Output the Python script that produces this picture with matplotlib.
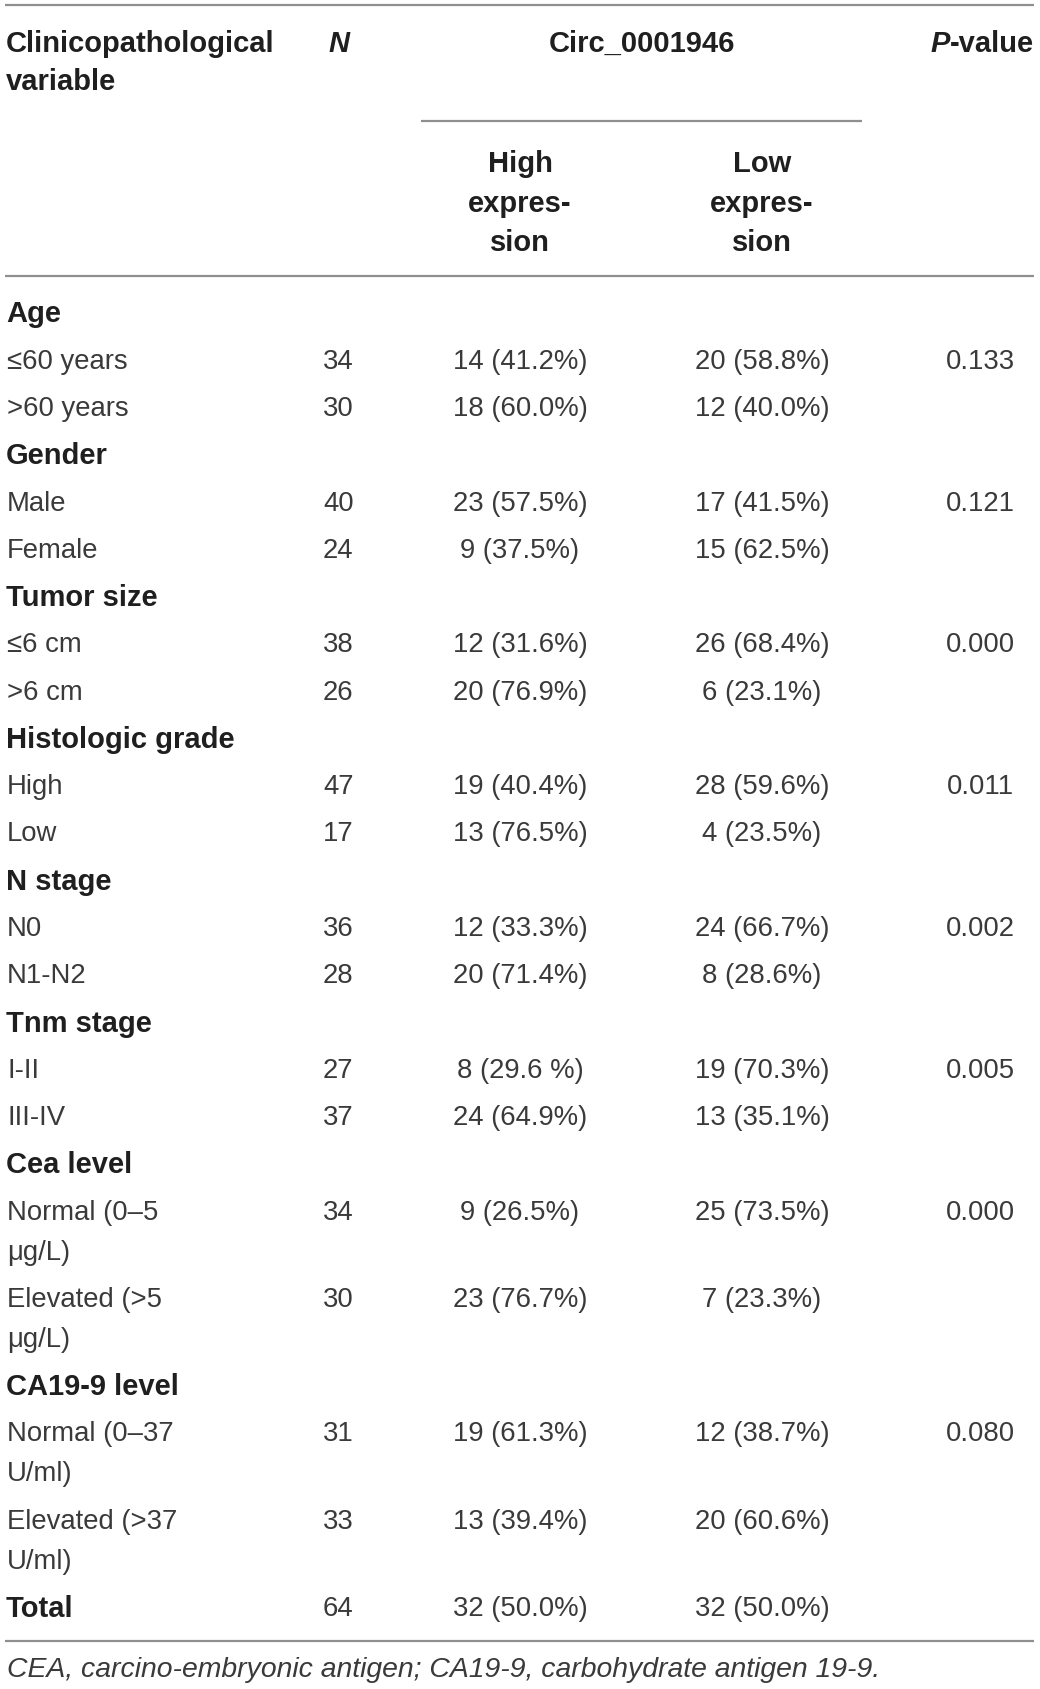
import matplotlib
matplotlib.use("Agg")
import matplotlib.pyplot as plt

# ---------------- data ----------------
groups = ["Age", "Gender", "Tumor size", "Histologic grade", "N stage",
          "Tnm stage", "Cea level", "CA19-9 level"]
sub_labels = [["≤60 years", ">60 years"], ["Male", "Female"], ["≤6 cm", ">6 cm"],
              ["High", "Low"], ["N0", "N1-N2"], ["I-II", "III-IV"],
              ["Normal (0–5\nμg/L)", "Elevated (>5\nμg/L)"],
              ["Normal (0–37\nU/ml)", "Elevated (>37\nU/ml)"]]
n_values = [34, 30, 40, 24, 38, 26, 47, 17, 36, 28, 27, 37, 34, 30, 31, 33]
high_counts = [14, 18, 23, 9, 12, 20, 19, 13, 12, 20, 8, 24, 9, 23, 19, 13]
high_pcts = ["41.2", "60.0", "57.5", "37.5", "31.6", "76.9", "40.4", "76.5",
             "33.3", "71.4", "29.6 ", "64.9", "26.5", "76.7", "61.3", "39.4"]
low_counts = [20, 12, 17, 15, 26, 6, 28, 4, 24, 8, 19, 13, 25, 7, 12, 20]
low_pcts = ["58.8", "40.0", "41.5", "62.5", "68.4", "23.1", "59.6", "23.5",
            "66.7", "28.6", "70.3", "35.1", "73.5", "23.3", "38.7", "60.6"]
p_values = ["0.133", "0.121", "0.000", "0.011", "0.002", "0.005", "0.000", "0.080"]
total_label = "Total"
total_n = 64
total_high = "32 (50.0%)"
total_low = "32 (50.0%)"
footnote = "CEA, carcino-embryonic antigen; CA19-9, carbohydrate antigen 19-9."

# ---------------- styling ----------------
FAM = ["Liberation Sans", "DejaVu Sans"]
REG = 19.8
BOLD = 21
FOOT = 20.4
TXT = "#3a3a3a"
BTXT = "#1f1f1f"
LINEC = "#8f8f8f"

X_LABEL = 7
X_N = 323
X_HIGH = 520
X_LOW = 762
X_P = 980
X_RIGHT = 1034

fig = plt.figure(figsize=(10.4, 16.9), dpi=100)
ax = fig.add_axes([0, 0, 1, 1])
ax.set_xlim(0, 1040)
ax.set_ylim(1690, 0)
ax.axis("off")


def t(x, y, s, ha="left", bold=False, italic=False, size=None):
    return ax.text(x, y, s, ha=ha, va="center", family=FAM,
                   fontsize=size or (BOLD if bold else REG),
                   fontweight="bold" if bold else "normal",
                   fontstyle="italic" if italic else "normal",
                   color=BTXT if bold else TXT)


def hline(y, x0=5, x1=X_RIGHT):
    ax.plot([x0, x1], [y, y], color=LINEC, lw=1.6, solid_capstyle="butt")


# ---------------- header ----------------
hline(5.5)
t(X_LABEL - 1, 44, "Clinicopathological", bold=True)
t(X_LABEL - 1, 82, "variable", bold=True)
t(X_N + 5, 44, "N", bold=True, italic=True)
t((421 + 862) / 2, 44, "Circ_0001946", ha="center", bold=True)
hline(122, 421, 862)
pv = t(X_RIGHT, 44, "-value", ha="right", bold=True)
fig.canvas.draw()
r = fig.canvas.get_renderer()
bb = pv.get_window_extent(renderer=r)
x_left = ax.transData.inverted().transform((bb.x0, bb.y0))[0]
t(x_left, 44, "P", ha="right", bold=True, italic=True)
for i, w in enumerate(["High", "expres-", "sion"]):
    t(X_HIGH, 164 + 39.5 * i, w, ha="center", bold=True)
for i, w in enumerate(["Low", "expres-", "sion"]):
    t(X_LOW, 164 + 39.5 * i, w, ha="center", bold=True)
hline(277)

# ---------------- body ----------------
STEP = 47.27
WRAP = 40
y = 314.5
k = 0
for g, grp in enumerate(groups):
    t(X_LABEL - 1, y, grp, bold=True)
    y += STEP
    for j, lab in enumerate(sub_labels[g]):
        lines = lab.split("\n")
        t(X_LABEL, y, lines[0])
        t(X_N, y, str(n_values[k]))
        t(X_HIGH, y, f"{high_counts[k]} ({high_pcts[k]}%)", ha="center")
        t(X_LOW, y, f"{low_counts[k]} ({low_pcts[k]}%)", ha="center")
        if j == 0:
            t(X_P, y, p_values[g], ha="center")
        for extra in lines[1:]:
            y += WRAP
            t(X_LABEL, y, extra)
        y += STEP
        k += 1

t(X_LABEL - 1, y, total_label, bold=True)
t(X_N, y, str(total_n))
t(X_HIGH, y, total_high, ha="center")
t(X_LOW, y, total_low, ha="center")
hline(1642)
t(X_LABEL, 1670, footnote, italic=True, size=FOOT)

fig.savefig("out.png", dpi=100, facecolor="white")
